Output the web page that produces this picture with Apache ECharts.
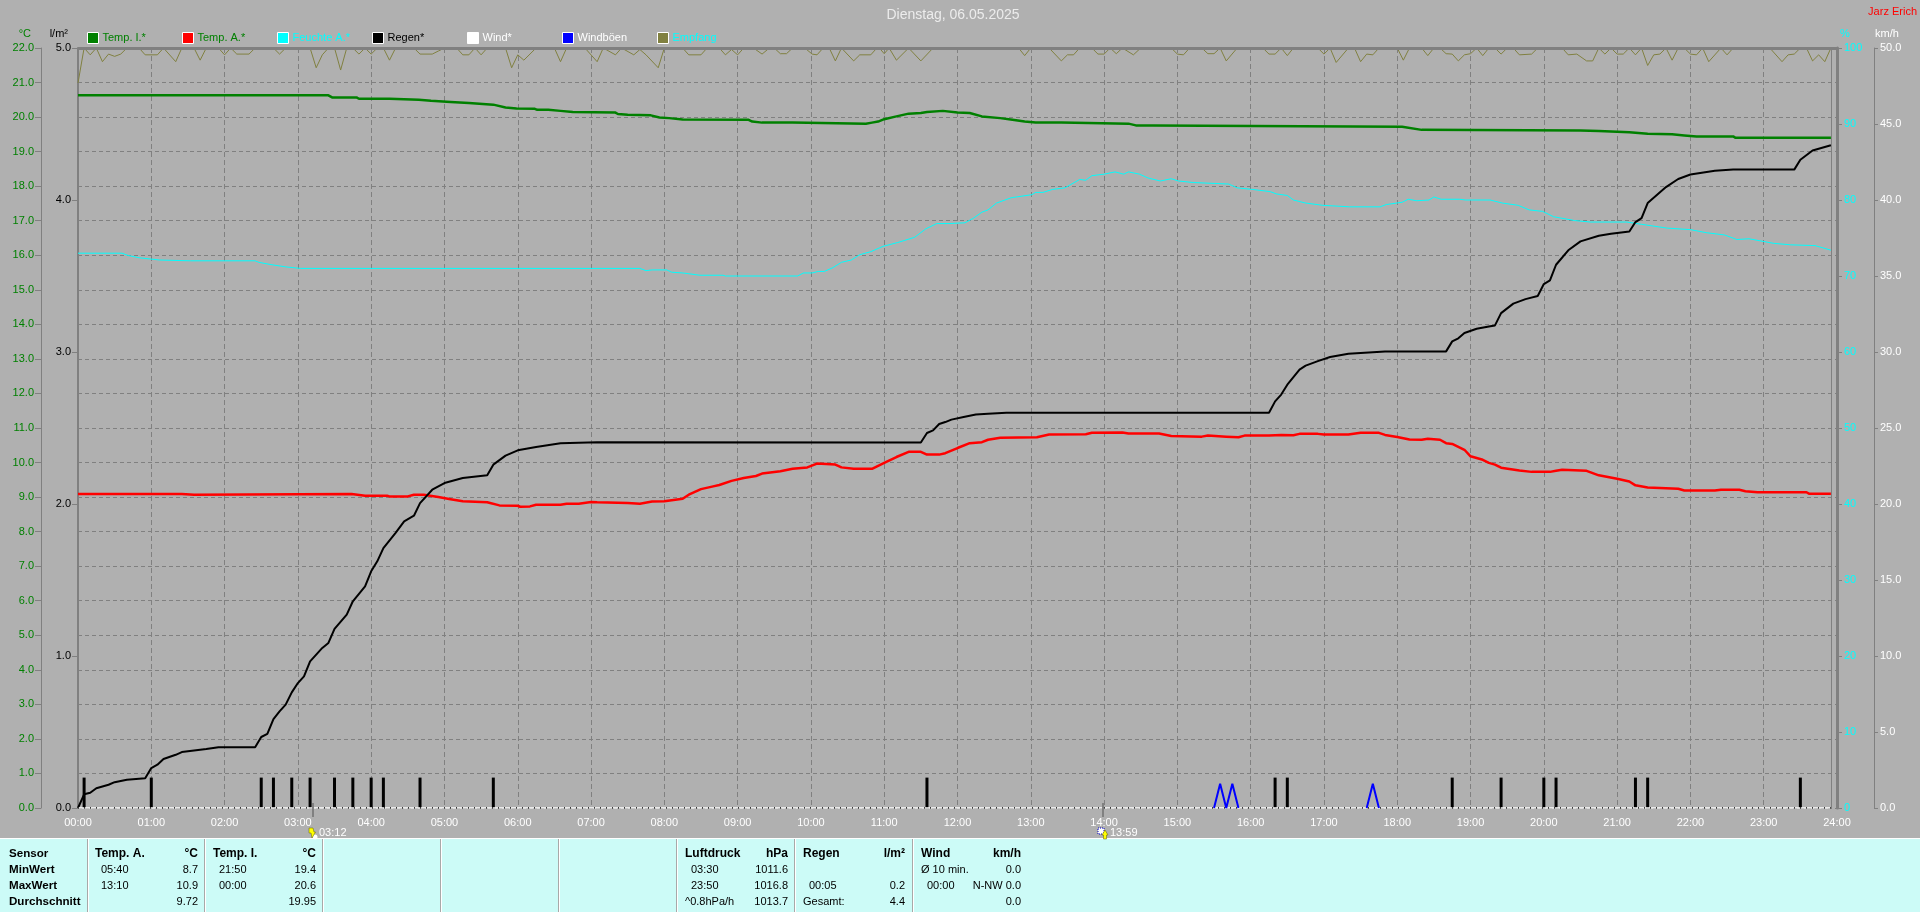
<!DOCTYPE html>
<html><head><meta charset="utf-8">
<style>html,body{margin:0;padding:0;background:#b0b0b0;overflow:hidden}#c{width:1920px;height:912px}</style>
<script src="https://cdn.jsdelivr.net/npm/echarts@6/dist/echarts.min.js"></script>
</head><body><div id="c"></div>
<script>
// ---- values: [minute of day, value] ----
const tempInside=[[0,20.63],[205,20.63],[208,20.57],[228,20.57],[230,20.53],[255,20.53],[256,20.5],[279,20.5],[280,20.47],[289,20.47],[290,20.44],[305,20.44],[306,20.41],[320,20.41],[321,20.37],[340,20.36],[341,20.33],[350,20.28],[359,20.25],[374,20.24],[376,20.21],[385,20.21],[386,20.18],[395,20.18],[396,20.15],[405,20.15],[406,20.13],[440,20.13],[442,20.09],[450,20.07],[469,20.05],[476,19.99],[484,19.97],[495,19.93],[549,19.92],[552,19.87],[560,19.84],[585,19.84],[586,19.81],[645,19.81],[650,19.84],[655,19.87],[660,19.94],[670,20.02],[680,20.1],[690,20.12],[695,20.15],[708,20.18],[720,20.13],[730,20.12],[740,20.02],[755,19.97],[765,19.92],[775,19.87],[784,19.84],[805,19.84],[806,19.81],[860,19.81],[866,19.76],[880,19.76],[881,19.72],[1084,19.72],[1100,19.63],[1230,19.61],[1245,19.6],[1270,19.56],[1285,19.52],[1305,19.5],[1315,19.47],[1325,19.44],[1355,19.44],[1357,19.4],[1435,19.4]];
const tempOutside=[[0,9.09],[85,9.09],[86,9.07],[95,9.07],[96,9.09],[224,9.09],[235,9.04],[253,9.04],[255,9.02],[270,9.02],[275,9.07],[283,9.07],[295,9.0],[305,8.94],[315,8.88],[335,8.85],[345,8.76],[360,8.75],[362,8.72],[370,8.73],[375,8.78],[395,8.78],[400,8.81],[410,8.81],[420,8.86],[425,8.85],[450,8.83],[460,8.81],[470,8.87],[480,8.88],[495,8.95],[500,9.07],[510,9.23],[520,9.31],[525,9.35],[535,9.47],[545,9.55],[555,9.61],[560,9.68],[575,9.75],[585,9.82],[597,9.86],[605,9.97],[620,9.94],[625,9.86],[635,9.82],[650,9.82],[660,9.99],[670,10.16],[680,10.31],[690,10.31],[695,10.23],[705,10.23],[710,10.27],[720,10.42],[730,10.56],[740,10.59],[745,10.66],[755,10.72],[785,10.73],[795,10.81],[825,10.82],[830,10.86],[855,10.87],[860,10.84],[885,10.84],[895,10.77],[920,10.75],[925,10.78],[940,10.75],[950,10.73],[955,10.78],[975,10.78],[985,10.8],[995,10.79],[1000,10.83],[1015,10.83],[1020,10.81],[1040,10.81],[1050,10.86],[1065,10.86],[1070,10.8],[1080,10.74],[1090,10.67],[1100,10.66],[1105,10.69],[1115,10.66],[1120,10.56],[1125,10.54],[1135,10.37],[1140,10.18],[1150,10.08],[1155,9.99],[1160,9.94],[1165,9.85],[1180,9.77],[1190,9.73],[1205,9.73],[1210,9.76],[1215,9.79],[1235,9.76],[1245,9.63],[1260,9.53],[1270,9.45],[1275,9.34],[1285,9.28],[1310,9.24],[1315,9.19],[1340,9.19],[1345,9.21],[1360,9.21],[1365,9.17],[1375,9.14],[1415,9.14],[1417,9.1],[1435,9.1]];
const humidityOutside=[[0,73],[36,73],[41,72.7],[50,72.4],[67,72.1],[92,72],[145,72],[148,71.8],[158,71.5],[170,71.2],[182,71],[460,71],[465,70.7],[470,70.8],[482,70.8],[486,70.5],[495,70.4],[500,70.3],[509,70.1],[528,70.1],[530,70],[589,70],[594,70.4],[601,70.4],[606,70.6],[611,70.6],[618,71.1],[625,71.8],[633,72.1],[640,72.8],[649,73.2],[659,73.9],[671,74.4],[677,74.7],[685,75.1],[694,76.2],[703,76.9],[713,76.9],[726,77],[733,77.6],[740,78.4],[745,78.7],[752,79.6],[764,80.3],[781,80.7],[784,81],[790,81],[798,81.4],[808,81.6],[820,82.7],[825,82.6],[830,83.2],[840,83.4],[849,83.7],[856,83.4],[860,83.7],[869,83.4],[876,82.9],[886,82.5],[895,82.8],[901,82.5],[913,82.3],[942,82.1],[949,81.6],[961,81.4],[976,81.1],[981,80.8],[990,80.6],[995,80],[1005,79.6],[1019,79.3],[1041,79.1],[1066,79.1],[1071,79.4],[1084,79.7],[1089,80.1],[1096,79.9],[1106,80],[1110,80.4],[1116,80.1],[1131,80.1],[1136,80],[1156,80],[1166,79.6],[1179,79.3],[1188,78.7],[1199,78.5],[1208,77.8],[1225,77.3],[1238,77.1],[1268,77.1],[1280,76.8],[1301,76.3],[1320,76.1],[1333,75.7],[1348,75.4],[1358,74.8],[1368,74.9],[1388,74.3],[1402,74.1],[1422,74],[1435,73.4]];
const rainTotal=[[0,0],[5,0.09],[10,0.1],[15,0.13],[25,0.153],[30,0.17],[40,0.186],[55,0.195],[60,0.263],[65,0.285],[70,0.322],[80,0.35],[85,0.368],[105,0.388],[115,0.4],[145,0.4],[150,0.467],[155,0.487],[160,0.585],[165,0.636],[170,0.68],[175,0.761],[180,0.822],[185,0.866],[190,0.965],[200,1.053],[205,1.086],[210,1.178],[220,1.272],[225,1.36],[235,1.458],[240,1.557],[245,1.623],[250,1.71],[260,1.81],[267,1.886],[275,1.923],[280,2.006],[290,2.094],[300,2.138],[315,2.171],[335,2.189],[340,2.259],[350,2.318],[360,2.353],[375,2.375],[395,2.399],[425,2.406],[690,2.405],[695,2.467],[700,2.484],[705,2.526],[710,2.539],[715,2.555],[725,2.572],[735,2.589],[745,2.594],[760,2.6],[975,2.6],[980,2.675],[985,2.72],[990,2.785],[1000,2.884],[1005,2.91],[1015,2.94],[1025,2.967],[1040,2.989],[1070,3.004],[1120,3.004],[1125,3.07],[1130,3.09],[1135,3.125],[1145,3.153],[1155,3.168],[1160,3.175],[1165,3.256],[1175,3.318],[1185,3.348],[1195,3.368],[1200,3.447],[1205,3.471],[1210,3.574],[1220,3.669],[1230,3.728],[1245,3.765],[1255,3.778],[1270,3.793],[1275,3.855],[1280,3.881],[1285,3.98],[1300,4.085],[1310,4.138],[1320,4.168],[1340,4.193],[1355,4.2],[1405,4.2],[1410,4.265],[1420,4.326],[1435,4.36]];
const rainPer5Min=[[5,0.2],[60,0.2],[150,0.2],[160,0.2],[175,0.2],[190,0.2],[210,0.2],[225,0.2],[240,0.2],[250,0.2],[280,0.2],[340,0.2],[695,0.2],[980,0.2],[990,0.2],[1125,0.2],[1165,0.2],[1200,0.2],[1210,0.2],[1275,0.2],[1285,0.2],[1410,0.2]];
const wind=[[0,0],[1435,0]];
const windGust=[[930,0],[935,1.6],[940,0],[945,1.6],[950,0],[1000,null],[1055,0],[1060,1.6],[1065,0]];
const reception=[[0,95.4],[5,100],[10,99.1],[15,100],[20,98.2],[25,99.2],[30,98.9],[35,99.2],[40,100],[50,100],[55,99.1],[65,99.1],[70,100],[80,98.2],[85,100],[95,100],[100,98.4],[105,100],[115,100],[120,99.1],[125,100],[130,99.2],[140,99.2],[145,100],[160,100],[165,99.2],[170,100],[190,100],[195,97.4],[200,99.1],[205,100],[210,100],[215,97.1],[220,100],[225,100],[230,99.2],[235,100],[240,99.2],[245,100],[250,100],[255,98.4],[260,100],[275,100],[280,99.2],[290,99.2],[295,99.6],[300,100],[310,100],[315,99.1],[320,99.1],[325,100],[330,99.1],[335,100],[350,100],[355,97.4],[360,99.1],[365,98.4],[375,100],[390,100],[395,98.2],[400,100],[415,100],[425,98.2],[430,100],[440,99.1],[445,100],[455,99.1],[460,99.8],[465,99.1],[475,97.4],[480,100],[495,100],[500,99.1],[510,99.1],[515,100],[525,100],[530,99.1],[535,99.8],[540,99.1],[545,100],[553,100],[560,99.2],[566,100],[570,100],[575,99.25],[580,99.25],[585,100],[595,100],[601,99.2],[605,99.1],[610,100],[615,100],[620,98.3],[625,100],[635,98.3],[640,99.1],[649,99.1],[654,100],[656,100],[660,99.25],[664,100],[670,98.4],[680,100],[690,98.3],[700,100],[770,100],[775,99],[780,100],[795,100],[805,98.3],[810,99.1],[815,99.1],[820,100],[830,100],[835,99.2],[840,99.2],[845,100],[850,99.25],[855,100],[864,99.1],[870,100],[895,100],[900,99.2],[905,99.1],[910,100],[920,100],[925,99.25],[930,99.25],[935,100],[940,98.3],[949,100],[970,100],[975,99.2],[980,99.2],[985,100],[990,99],[995,100],[1015,100],[1020,99.2],[1025,100],[1030,98.1],[1040,100],[1045,100],[1050,98.2],[1055,99.2],[1060,99.1],[1065,100],[1080,100],[1085,98.4],[1090,100],[1100,100],[1105,99],[1110,100],[1115,100],[1120,99.25],[1125,99.2],[1130,98.3],[1135,99.1],[1140,99.25],[1145,100],[1150,99],[1155,100],[1160,100],[1165,99.2],[1170,100],[1175,100],[1180,99.1],[1190,99.2],[1195,100],[1215,100],[1220,99.1],[1227,99.2],[1235,98.3],[1240,98.3],[1245,100],[1250,99.2],[1255,100],[1260,99.2],[1265,99.2],[1270,100],[1275,99.1],[1280,100],[1285,97.7],[1290,99.1],[1295,99.2],[1300,100],[1305,98.4],[1310,100],[1315,100],[1320,99.2],[1325,99.1],[1330,100],[1335,98.2],[1345,100],[1350,99.1],[1355,100],[1385,100],[1395,98.2],[1400,99.1],[1405,99.2],[1410,100],[1415,100],[1420,98.3],[1425,99.1],[1430,98.2],[1435,100]];
const sunTimes=[192,839];
const sunLabels=["03:12","13:59"];
const tempTicks=22, rainTicks=5, humidityTicks=100, windTicks=50;

// ---- summary panel text ----
const sensorRows=["Sensor","MinWert","MaxWert","Durchschnitt"];
const tempAHead=["Temp. A.","°C"], tempATimes=["05:40","13:10"], tempAVals=["8.7","10.9","9.72"];
const tempIHead=["Temp. I.","°C"], tempITimes=["21:50","00:00"], tempIVals=["19.4","20.6","19.95"];
const airHead=["Luftdruck","hPa"], airTimes=["03:30","23:50"], airTrend="^0.8hPa/h", airVals=["1011.6","1016.8","1013.7"];
const rainHead=["Regen","l/m²"], rainTimes=["","00:05"], rainFoot="Gesamt:", rainVals=["","0.2","4.4"];
const windHead=["Wind","km/h"], windTimes=["Ø 10 min.","00:00"], windVals=["0.0","N-NW 0.0","0.0"];

// ---- styling ----
const FONT='"Liberation Sans",Arial,sans-serif';
const GREY='#808080', BG='#b0b0b0', PANEL='#ccfbf7';
const legends=[["Temp. I.*",'#008000'],["Temp. A.*",'#008000'],["Feuchte A.*",'#00ffff'],["Regen*",'#000000'],["Wind*",'#ffffff'],["Windböen",'#ffffff'],["Empfang",'#00ffff']];
const legendLeft=i=>87+95*i;
const hhmm=m=>String(Math.floor(m/60)).padStart(2,'0')+':'+String(m%60).padStart(2,'0');
const fix1=v=>v.toFixed(1);

function yAx(o){return Object.assign({type:'value',min:0,alignTicks:false,nameLocation:'end',
  axisLine:{show:true,onZero:false,lineStyle:{color:GREY,width:1}},
  axisTick:{show:true,length:6,lineStyle:{color:GREY}},
  splitLine:{show:false},minorTick:{show:false}},o);}

const rows=[854,870,886,902];
const panel=[];
function T(text,x,row,align,bold,size){ if(!text)return;
  panel.push({type:'text',silent:true,style:{text,x,y:rows[row],align:align||'left',verticalAlign:'middle',fill:'#000',
    font:(bold?'bold '+(size||12)+'px ':'11px ')+FONT}});}
sensorRows.forEach((s,i)=>T(s,9,i,'left',true,11.6));
function col(head,times,vals,lx,tx,rx,foot){
  T(head[0],lx,0,'left',true);T(head[1],rx,0,'right',true);
  times.forEach((t,i)=>T(t,i===0&&head[0]==='Wind'?lx:tx,i+1));
  if(foot)T(foot,lx,3);
  vals.forEach((v,i)=>T(v,rx,i+1,'right'));
}
col(tempAHead,tempATimes,tempAVals,95,101,198);
col(tempIHead,tempITimes,tempIVals,213,219,316);
col(airHead,airTimes,airVals,685,691,788,airTrend);
col(rainHead,rainTimes,rainVals,803,809,905,rainFoot);
col(windHead,windTimes,windVals,921,927,1021);
const seps=[88,205,323,441,559,677,795,913];
const sepEls=[];
seps.forEach(x=>{
  sepEls.push({type:'line',silent:true,shape:{x1:x-.5,y1:839,x2:x-.5,y2:912},style:{stroke:'#a8a8a8',lineWidth:1}});
  sepEls.push({type:'line',silent:true,shape:{x1:x+.5,y1:839,x2:x+.5,y2:912},style:{stroke:'#ffffff',lineWidth:1}});
});

function line(name,data,color,width,axis,extra){
  return Object.assign({type:'line',name,data,xAxisIndex:0,yAxisIndex:axis,showSymbol:false,symbol:'none',smooth:false,
    clip:true,silent:true,animation:false,itemStyle:{color},lineStyle:{color,width}},extra||{});
}

const option={
  animation:false,backgroundColor:BG,textStyle:{fontFamily:FONT,fontSize:11},
  title:{text:'Dienstag, 06.05.2025',left:948,top:3,textAlign:'center',
    textStyle:{color:'#ececec',fontSize:14,fontWeight:'normal',fontFamily:FONT}},
  legend:legends.map((l,i)=>({data:[{name:l[0],icon:'rect',textStyle:{color:l[1]},itemStyle:{borderColor:'#ffffff',borderWidth:1}}],
    left:legendLeft(i),top:32,padding:0,itemWidth:11,itemHeight:11,itemGap:0,selectedMode:false,
    textStyle:{fontSize:11,fontFamily:FONT,color:l[1],padding:[0,0,0,-1]}})),
  grid:{left:78,right:83,top:48,height:760,containLabel:false},
  xAxis:{type:'value',min:0,max:1440,interval:60,
    axisLine:{show:false},axisTick:{show:false},
    axisLabel:{color:'#ffffff',fontSize:11,fontFamily:FONT,margin:9,formatter:hhmm,showMinLabel:true,showMaxLabel:true},
    splitLine:{show:true,lineStyle:{color:GREY,type:[5,3],width:1}}},
  yAxis:[
    yAx({max:tempTicks,interval:1,position:'left',offset:37,name:'°C',nameGap:9,
      nameTextStyle:{color:'#008000',fontSize:11,fontFamily:FONT,align:'right',padding:[0,10,0,0]},
      axisLabel:{color:'#008000',fontSize:11,fontFamily:FONT,margin:7,formatter:fix1},
      splitLine:{show:true,lineStyle:{color:GREY,type:[4,3],width:1}}}),
    yAx({max:rainTicks,interval:1,position:'left',offset:0,name:'l/m²',nameGap:9,
      axisLine:{show:true,onZero:false,lineStyle:{color:GREY,width:2}},
      nameTextStyle:{color:'#000',fontSize:11,fontFamily:FONT,align:'right',padding:[0,10,0,0]},
      axisLabel:{color:'#000',fontSize:11,fontFamily:FONT,margin:7,formatter:fix1}}),
    yAx({max:humidityTicks,interval:10,position:'right',offset:0,name:'%',nameGap:9,
      axisLine:{show:true,onZero:false,lineStyle:{color:GREY,width:3}},
      nameTextStyle:{color:'#00ffff',fontSize:11,fontFamily:FONT,align:'left',padding:[0,0,0,3]},
      axisLabel:{color:'#00ffff',fontSize:11,fontFamily:FONT,margin:7},axisTick:{show:true,length:5,lineStyle:{color:GREY}}}),
    yAx({max:windTicks,interval:5,position:'right',offset:37,name:'km/h',nameGap:9,
      nameTextStyle:{color:'#ffffff',fontSize:11,fontFamily:FONT,align:'left',padding:[0,0,0,1]},
      axisLabel:{color:'#ffffff',fontSize:11,fontFamily:FONT,margin:6,formatter:fix1},axisTick:{show:true,length:4,lineStyle:{color:GREY}}})
  ],
  series:[
    line('Empfang',reception,'#808040',1,2,{z:3,markLine:{silent:true,symbol:'none',animation:false,label:{show:false},
      lineStyle:{color:GREY,type:'solid',width:1},data:[{xAxis:1435}]}}),
    line('Temp. I.*',tempInside,'#008000',2.5,0,{z:4}),
    line('Temp. A.*',tempOutside,'#ff0000',2.5,0,{z:4}),
    line('Feuchte A.*',humidityOutside,'#00ffff',1,2,{z:4}),
    {type:'bar',name:'Regen*',data:rainPer5Min,xAxisIndex:0,yAxisIndex:1,barWidth:3,silent:true,animation:false,z:5,itemStyle:{color:'#000000'}},
    line('Regen*',rainTotal,'#000000',2,1,{z:6,markLine:{silent:true,symbol:'none',animation:false,label:{show:false},
      lineStyle:{color:GREY,type:'solid',width:3},data:[{yAxis:5}]}}),
    line('Wind*',wind,'#ffffff',1.5,3,{z:7}),
    line('Windböen',windGust,'#0000ff',2,3,{z:8}),
    line('Wind*',wind,'#000000',1,3,{z:9,lineStyle:{color:'#000000',width:1.5,type:[1,5]},legendHoverLink:false}),
    {type:'custom',name:'Sonne',xAxisIndex:0,yAxisIndex:3,data:sunTimes.map(m=>[m,0]),silent:true,animation:false,clip:false,z:10,
      renderItem(params,api){
        const p=api.coord([api.value(0),0]), x=Math.round(p[0]), y=Math.round(p[1]), i=params.dataIndex;
        const kids=[{type:'line',shape:{x1:x,y1:y-5,x2:x,y2:y+9},style:{stroke:GREY,lineWidth:2}}];
        if(i===0){
          kids.push({type:'circle',shape:{cx:x+2,cy:y+29,r:2.5},style:{fill:'#ffffff'}});
          kids.push({type:'polygon',shape:{points:[[x-4,y+20],[x,y+20],[x+1,y+24],[x+2.5,y+24],[x-1,y+30],[x-2,y+25],[x-4,y+25]]},style:{fill:'#ffff00',stroke:'#606000',lineWidth:.5}});
          kids.push({type:'text',style:{text:sunLabels[i],x:x+6,y:y+25,verticalAlign:'middle',fill:'#ffffff',font:'11px '+FONT}});
        }else{
          kids.push({type:'rect',shape:{x:x-5,y:y+20,width:6,height:6},style:{fill:'#ffffff',stroke:'#0000c0',lineWidth:1,lineDash:[1,1]}});
          kids.push({type:'polygon',shape:{points:[[x+2,y+22],[x+5,y+27],[x+3.5,y+27],[x+3.5,y+31],[x+.5,y+31],[x+.5,y+27],[x-1,y+27]]},style:{fill:'#ffff00',stroke:'#606000',lineWidth:.5}});
          kids.push({type:'text',style:{text:sunLabels[i],x:x+7,y:y+25,verticalAlign:'middle',fill:'#ffffff',font:'11px '+FONT}});
        }
        return {type:'group',children:kids};
      }}
  ],
  graphic:[
    {type:'text',silent:true,style:{text:'Jarz Erich',x:1917,y:12,align:'right',verticalAlign:'middle',fill:'#ff0000',font:'11px '+FONT}},
    {type:'rect',silent:true,z:-1,shape:{x:0,y:839,width:1920,height:73},style:{fill:PANEL}},
    {type:'line',silent:true,z:1,shape:{x1:0,y1:838.5,x2:1920,y2:838.5},style:{stroke:'#ffffff',lineWidth:1}},
    ...sepEls,...panel
  ]
};
const chart=echarts.init(document.getElementById('c'),null,{renderer:'canvas',width:1920,height:912});
chart.setOption(option);
</script></body></html>
